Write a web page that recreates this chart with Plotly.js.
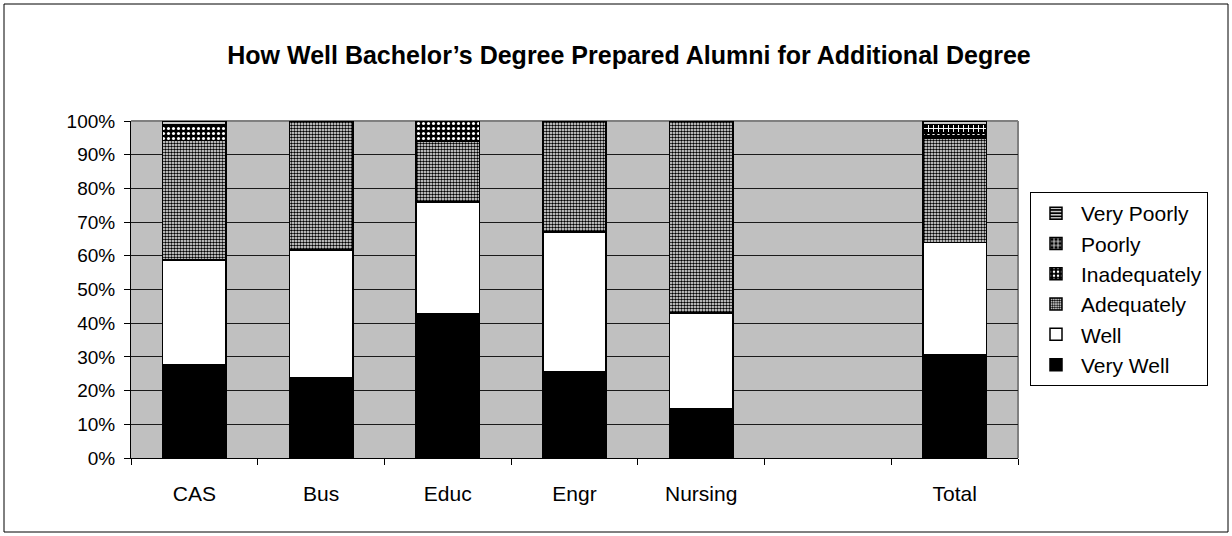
<!DOCTYPE html>
<html>
<head>
<meta charset="utf-8">
<script src="https://cdn.plot.ly/plotly-3.0.1.min.js"></script>
<style>
  html, body { margin: 0; padding: 0; background: #ffffff; }
  #chart { width: 1232px; height: 536px; }
</style>
</head>
<body>
<div id="chart"></div>
<script>
// Categories (the blank slot is a spacer category in the original chart)
const categories = ["CAS", "Bus", "Educ", "Engr", "Nursing", " ", "Total"];

// Percentages per response level (blank slot has no data)
const veryWell     = [27.8, 23.8, 42.7, 25.6, 14.5, null, 30.5];
const well         = [31.0, 37.9, 33.3, 41.4, 28.5, null, 33.5];
const adequately   = [35.4, 38.3, 17.9, 33.0, 57.0, null, 31.0];
const inadequately = [4.3,  0,    6.1,  0,    0,    null, 1.5];
const poorly       = [0,    0,    0,    0,    0,    null, 2.5];
const veryPoorly   = [1.5,  0,    0,    0,    0,    null, 1.0];

const yTickVals = [0, 10, 20, 30, 40, 50, 60, 70, 80, 90, 100];
const yTickText = ["0%", "10%", "20%", "30%", "40%", "50%", "60%", "70%", "80%", "90%", "100%"];

const FONT = "Liberation Sans, Arial, sans-serif";

function bar(name, values, color, pattern) {
  const marker = { color: color, line: { color: "#000000", width: 1.5 } };
  if (pattern) marker.pattern = pattern;
  return {
    type: "bar",
    name: name,
    x: categories,
    y: values,
    width: 0.5,
    marker: marker,
    legendgroup: name,
    hoverinfo: "x+y+name"
  };
}

const traces = [
  bar("Very Well", veryWell, "#000000"),
  bar("Well", well, "#ffffff"),
  bar("Adequately", adequately, "#ffffff", { shape: ".", fgcolor: "#000000", bgcolor: "#ffffff", size: 3, solidity: 0.55, fillmode: "replace" }),
  bar("Inadequately", inadequately, "#000000", { shape: ".", fgcolor: "#ffffff", bgcolor: "#000000", size: 5, solidity: 0.3, fillmode: "replace" }),
  bar("Poorly", poorly, "#000000", { shape: "+", fgcolor: "#ffffff", bgcolor: "#000000", size: 5, solidity: 0.35, fillmode: "replace" }),
  bar("Very Poorly", veryPoorly, "#000000", { shape: "-", fgcolor: "#ffffff", bgcolor: "#000000", size: 4, solidity: 0.4, fillmode: "replace" })
];

// plot area: x 131..1018, y 121..458
const L = 131, R = 1232 - 1018, T = 121, B = 536 - 458;
const PW = 1232 - L - R, PH = 536 - T - B;
const px = v => (v - L) / PW;
const py = v => (536 - B - v) / PH;

const layout = {
  width: 1232,
  height: 536,
  margin: { l: L, r: R, t: T, b: B, pad: 0 },
  paper_bgcolor: "#ffffff",
  plot_bgcolor: "#c0c0c0",
  barmode: "stack",
  bargap: 0.5,
  font: { family: FONT, size: 19, color: "#000000" },
  title: {
    text: "<b>How Well Bachelor’s Degree Prepared Alumni for Additional Degree</b>",
    font: { family: FONT, size: 25, color: "#000000" },
    x: px(629), xref: "paper", xanchor: "center",
    y: 1 - 55 / 536, yref: "container", yanchor: "middle"
  },
  xaxis: {
    type: "category",
    categoryorder: "array",
    categoryarray: categories,
    tickson: "boundaries",
    ticks: "outside",
    ticklen: 6,
    tickcolor: "#000000",
    tickwidth: 1,
    showline: true,
    linecolor: "#000000",
    linewidth: 1,
    showgrid: false,
    ticklabelstandoff: 17,
    tickfont: { family: FONT, size: 21, color: "#000000" },
    fixedrange: true
  },
  yaxis: {
    range: [0, 100],
    tickvals: yTickVals,
    ticktext: yTickText,
    ticks: "outside",
    ticklen: 6,
    tickcolor: "#000000",
    showline: true,
    linecolor: "#000000",
    linewidth: 1,
    showgrid: true,
    gridcolor: "#1a1a1a",
    gridwidth: 1,
    zeroline: false,
    ticklabelstandoff: 5,
    tickfont: { family: FONT, size: 19, color: "#000000" },
    fixedrange: true
  },
  legend: {
    x: px(1030), xanchor: "left",
    y: py(192), yanchor: "top",
    traceorder: "reversed",
    bgcolor: "#ffffff",
    bordercolor: "#000000",
    borderwidth: 1,
    font: { family: FONT, size: 21, color: "#000000" },
    tracegroupgap: 6,
    itemwidth: 40
  },
  shapes: [
    // plot-area top and right frame (grey)
    { type: "line", xref: "paper", yref: "paper", x0: 0, x1: 1, y0: 1, y1: 1, line: { color: "#808080", width: 2 }, layer: "below" },
    { type: "line", xref: "paper", yref: "paper", x0: 1, x1: 1, y0: 0, y1: 1, line: { color: "#808080", width: 2 }, layer: "below" },
    // outer chart border
    { type: "rect", xref: "paper", yref: "paper", x0: px(4), x1: px(1228), y0: py(532), y1: py(4), line: { color: "#000000", width: 1 }, fillcolor: "rgba(0,0,0,0)" }
  ]
};

Plotly.newPlot("chart", traces, layout, { displayModeBar: false, staticPlot: true });
</script>
</body>
</html>
